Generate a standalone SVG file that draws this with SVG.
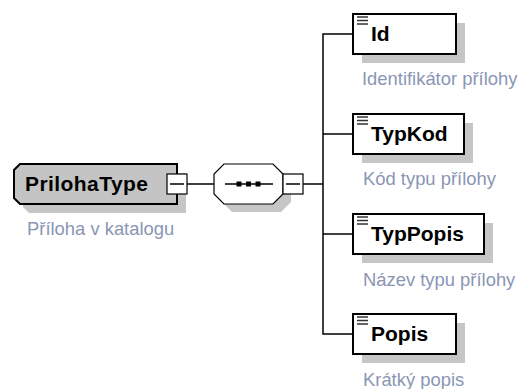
<svg xmlns="http://www.w3.org/2000/svg" width="525" height="389" viewBox="0 0 525 389">
<style>
.shadow{fill:#c6c6c6;stroke:none}
.el{fill:#fff;stroke:#000;stroke-width:2}
.ct{fill:#c4c4c4;stroke:#000;stroke-width:2}
.comp{fill:#fff;stroke:#000;stroke-width:1.2}
.mbox{fill:#fff;stroke:#000;stroke-width:1.2}
.line{fill:none;stroke:#000;stroke-width:1.5}
.lbl{font-family:"Liberation Sans",Arial,sans-serif;font-weight:bold;font-size:21px;fill:#000}
.desc{font-family:"Liberation Sans",Arial,sans-serif;font-size:18.4px;fill:#8a96b4}
.ico{stroke:#333;stroke-width:1.5}
</style>
<defs>
<g id="icon"><line class="ico" x1="0" y1="0" x2="11" y2="0"/><line class="ico" x1="0" y1="3.5" x2="11" y2="3.5"/><line class="ico" x1="0" y1="7" x2="11" y2="7"/></g>
</defs>
<g id="connectors">
<line class="line" x1="187" y1="184" x2="214" y2="184"/>
<line class="line" x1="303" y1="184" x2="323" y2="184"/>
<polyline class="line" points="353,34 323,34 323,334 353,334"/>
<line class="line" x1="323" y1="134" x2="353" y2="134"/>
<line class="line" x1="323" y1="234" x2="353" y2="234"/>
</g>
<g id="PrilohaType">
<polygon class="shadow" points="29,173 186,173 186,213 29,213 23,207 23,179"/>
<polygon class="ct" points="20,164 177,164 177,204 20,204 14,198 14,170"/>
<text class="lbl" x="25" y="191" textLength="123">PrilohaType</text>
<rect class="mbox" x="167" y="174" width="20" height="20"/>
<line class="line" x1="170" y1="184" x2="184" y2="184"/>
<text class="desc" x="27" y="235">Příloha v katalogu</text>
</g>
<g id="sequence">
<polygon class="shadow" points="232,172 281,172 291,182 291,202 281,212 232,212 222,202 222,182"/>
<polygon class="comp" points="224,164 273,164 283,174 283,194 273,204 224,204 214,194 214,174"/>
<line class="line" x1="225" y1="184" x2="273" y2="184"/>
<rect x="236.5" y="181.5" width="5" height="5" fill="#000"/>
<rect x="246" y="181.5" width="5" height="5" fill="#000"/>
<rect x="255.5" y="181.5" width="5" height="5" fill="#000"/>
<rect class="mbox" x="283" y="174" width="20" height="20"/>
<line class="line" x1="286" y1="184" x2="300" y2="184"/>
</g>
<g id="Id">
<rect class="shadow" x="362" y="23" width="103" height="40"/>
<rect class="el" x="353" y="14" width="103" height="40"/>
<use href="#icon" x="357" y="17"/>
<text class="lbl" x="371" y="41">Id</text>
<text class="desc" x="362" y="85">Identifikátor přílohy</text>
</g>
<g id="TypKod">
<rect class="shadow" x="362" y="123" width="111" height="40"/>
<rect class="el" x="353" y="114" width="111" height="40"/>
<use href="#icon" x="357" y="117"/>
<text class="lbl" x="371" y="141">TypKod</text>
<text class="desc" x="363" y="185">Kód typu přílohy</text>
</g>
<g id="TypPopis">
<rect class="shadow" x="362" y="223" width="131" height="40"/>
<rect class="el" x="353" y="214" width="131" height="40"/>
<use href="#icon" x="357" y="217"/>
<text class="lbl" x="371" y="241">TypPopis</text>
<text class="desc" x="363" y="286">Název typu přílohy</text>
</g>
<g id="Popis">
<rect class="shadow" x="362" y="323" width="103" height="40"/>
<rect class="el" x="353" y="314" width="103" height="40"/>
<use href="#icon" x="357" y="317"/>
<text class="lbl" x="371" y="341">Popis</text>
<text class="desc" x="363" y="386">Krátký popis</text>
</g>
</svg>
